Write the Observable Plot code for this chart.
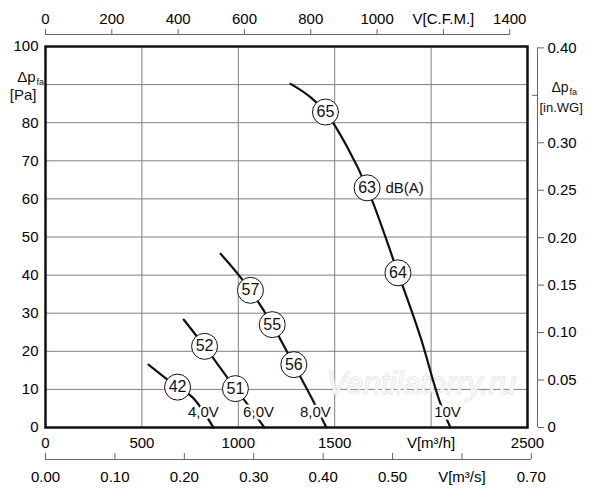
<!DOCTYPE html>
<html>
<head>
<meta charset="utf-8">
<script src="https://cdn.jsdelivr.net/npm/d3@7"></script>
<script src="https://cdn.jsdelivr.net/npm/@observablehq/plot@0.6"></script>
<style>
  html, body { margin: 0; padding: 0; background: #fff; }
  svg { font-family: "Liberation Sans", Arial, sans-serif; }
</style>
</head>
<body>
<div id="chart"></div>
<script>
// ---- data (flow in m³/h, pressure in Pa) ----
const curve4Q  = [534, 685, 763, 871];
const curve4P  = [16.5, 10.6, 7.9, 0];
const curve6Q  = [717, 825, 985, 1046, 1135];
const curve6P  = [28.3, 21.3, 10.2, 6.2, 0];
const curve8Q  = [908, 1063, 1176, 1288, 1400, 1457];
const curve8P  = [45.6, 36, 27, 16.5, 5.8, 0];
const curve10Q = [1271, 1374, 1452, 1565, 1668, 1828, 1945, 2049, 2100];
const curve10P = [90.2, 86.7, 82.8, 73.6, 62.9, 40.6, 23.7, 6.2, 0];

const voltLabels = ["4,0V", "6,0V", "8,0V", "10V"];
const voltLabelQ = [819, 1105, 1400, 2085];
const voltLabelP = [3.9, 3.9, 3.9, 4.0];

const noiseDb = [42, 52, 51, 57, 55, 56, 65, 63, 64];
const noiseQ  = [685, 825, 985, 1063, 1176, 1288, 1452, 1668, 1828];
const noiseP  = [10.6, 21.3, 10.2, 36, 27, 16.5, 82.8, 62.9, 40.6];

// axes
const xGrid = [500, 1000, 1500, 2000];
const yGrid = [10, 20, 30, 40, 50, 60, 70, 80, 90];
const m3hTicks  = [0, 500, 1000, 1500, 2000, 2500];
const m3hLabels = ["0", "500", "1000", "1500", "V[m³/h]", "2500"];
const paTicks   = [0, 10, 20, 30, 40, 50, 60, 70, 80, 100];
const cfmTicks  = [0, 200, 400, 600, 800, 1000, 1200, 1400];
const cfmLabels = ["0", "200", "400", "600", "800", "1000", "V[C.F.M.]", "1400"];
const m3sTicks  = [0, 0.1, 0.2, 0.3, 0.4, 0.5, 0.6, 0.7];
const m3sLabels = ["0.00", "0.10", "0.20", "0.30", "0.40", "0.50", "V[m³/s]", "0.70"];
const wgTicks   = [0, 0.05, 0.10, 0.15, 0.20, 0.25, 0.30, 0.40];
const wgLabels  = ["0", "0.05", "0.10", "0.15", "0.20", "0.25", "0.30", "0.40"];

// unit conversions (as drawn on the chart)
const M3H_PER_CFM = 1.72;
const M3H_PER_M3S = 3600;
const PA_PER_INWG = 249.09;

// ---- build tables ----
const curves = [
  ...curve4Q.map((q, i) => ({volt: "4", q, p: curve4P[i]})),
  ...curve6Q.map((q, i) => ({volt: "6", q, p: curve6P[i]})),
  ...curve8Q.map((q, i) => ({volt: "8", q, p: curve8P[i]})),
  ...curve10Q.map((q, i) => ({volt: "10", q, p: curve10P[i]}))
];
const volts = voltLabels.map((t, i) => ({t, q: voltLabelQ[i], p: voltLabelP[i]}));
const noise = noiseDb.map((db, i) => ({db, q: noiseQ[i], p: noiseP[i]}));

const fmtBy = (ticks, labels, conv) => d => {
  const i = ticks.findIndex(t => Math.abs(t * conv - d) < 1e-6);
  return i >= 0 ? labels[i] : "";
};

const axisColor = "#666";
const fs = 15;

const chart = Plot.plot({
  width: 600,
  height: 500,
  marginLeft: 45,
  marginRight: 73,
  marginTop: 46,
  marginBottom: 73,
  style: {background: "white", fontFamily: "'Liberation Sans', Arial, sans-serif", fontSize: "15px"},
  x: {domain: [0, 2500], axis: null},
  y: {domain: [0, 100], axis: null},
  marks: [
    Plot.gridX(xGrid, {stroke: "#808080", strokeOpacity: 1, strokeWidth: 1}),
    Plot.gridY(yGrid, {stroke: "#808080", strokeOpacity: 1, strokeWidth: 1}),
    // watermark
    Plot.text(["Ventilatorry.ru"], {x: 1950, y: 11.4, fontSize: 31, fontStyle: "italic",
      fontFamily: "'Liberation Sans Narrow', 'Liberation Sans', sans-serif",
      fill: "#f6f6f6", stroke: "#d6d6d6", strokeWidth: 0.8}),
    // fan curves
    Plot.line(curves, {x: "q", y: "p", z: "volt", curve: "monotone-x", stroke: "#111", strokeWidth: 2.2}),
    // voltage labels (white halo cuts the line)
    Plot.text(volts, {x: "q", y: "p", text: "t", fontSize: fs, fill: "#111", stroke: "white", strokeWidth: 5}),
    // noise circles
    Plot.dot(noise, {x: "q", y: "p", r: 13, fill: "white", stroke: "#111", strokeWidth: 1}),
    Plot.text(noise, {x: "q", y: "p", text: "db", fontSize: 16, fill: "#111"}),
    Plot.text(["dB(A)"], {x: 1763, y: 62.9, textAnchor: "start", fontSize: fs, fill: "#111"}),
    // frame
    Plot.frame({stroke: "#111", strokeWidth: 2.5}),

    // left axis (Pa)
    Plot.axisY({anchor: "left", ticks: paTicks, tickSize: 0, tickPadding: 7, fontSize: fs, label: null,
      tickFormat: d => String(d)}),
    Plot.text(["Δp"], {x: 0, y: 90, dx: -10, dy: -7, textAnchor: "end", fontSize: fs, fill: "#111"}),
    Plot.text(["fa"], {x: 0, y: 90, dx: -9, dy: -2, textAnchor: "start", fontSize: 9, fill: "#111"}),
    Plot.text(["[Pa]"], {x: 0, y: 90, dx: -9, dy: 11, textAnchor: "end", fontSize: fs, fill: "#111"}),

    // bottom axis (m³/h)
    Plot.axisX({anchor: "bottom", ticks: m3hTicks, tickSize: 0, tickPadding: 10, fontSize: fs, label: null,
      tickFormat: fmtBy(m3hTicks, m3hLabels, 1)}),

    // bottom axis (m³/s)
    Plot.ruleY([0], {x1: 0, x2: 0.7 * M3H_PER_M3S, dy: 32, stroke: axisColor}),
    Plot.axisX({anchor: "bottom", ticks: m3sTicks.map(d => d * M3H_PER_M3S), tickSize: 6, dy: 26,
      tickPadding: 12, fontSize: fs, label: null, stroke: axisColor,
      tickFormat: fmtBy(m3sTicks, m3sLabels, M3H_PER_M3S)}),

    // top axis (CFM)
    Plot.ruleY([100], {x1: 0, x2: 1400 * M3H_PER_CFM, dy: -12, stroke: axisColor}),
    Plot.axisX({anchor: "top", ticks: cfmTicks.map(d => d * M3H_PER_CFM), tickSize: 6, dy: -12,
      tickPadding: 5, fontSize: fs, label: null, stroke: axisColor,
      tickFormat: fmtBy(cfmTicks, cfmLabels, M3H_PER_CFM)}),

    // right axis (in.WG)
    Plot.ruleX([2500], {y1: 0, y2: 0.4 * PA_PER_INWG, dx: 10, stroke: axisColor}),
    Plot.axisY({anchor: "right", ticks: wgTicks.map(d => d * PA_PER_INWG), tickSize: 6, dx: 10,
      tickPadding: 4, fontSize: fs, label: null, stroke: axisColor,
      tickFormat: fmtBy(wgTicks, wgLabels, PA_PER_INWG)}),
    Plot.axisY({anchor: "right", ticks: [0.35 * PA_PER_INWG], tickSize: 6, dx: 4, label: null,
      stroke: axisColor, tickFormat: () => ""}),
    Plot.text(["Δp"], {x: 2500, y: 90, dx: 24, dy: 3, textAnchor: "start", fontSize: 14, fill: "#111"}),
    Plot.text(["fa"], {x: 2500, y: 90, dx: 42, dy: 8, textAnchor: "start", fontSize: 9, fill: "#111"}),
    Plot.text(["[in.WG]"], {x: 2500, y: 90, dx: 12, dy: 23, textAnchor: "start", fontSize: 13, fill: "#111"})
  ]
});
document.getElementById("chart").appendChild(chart);
</script>
</body>
</html>
